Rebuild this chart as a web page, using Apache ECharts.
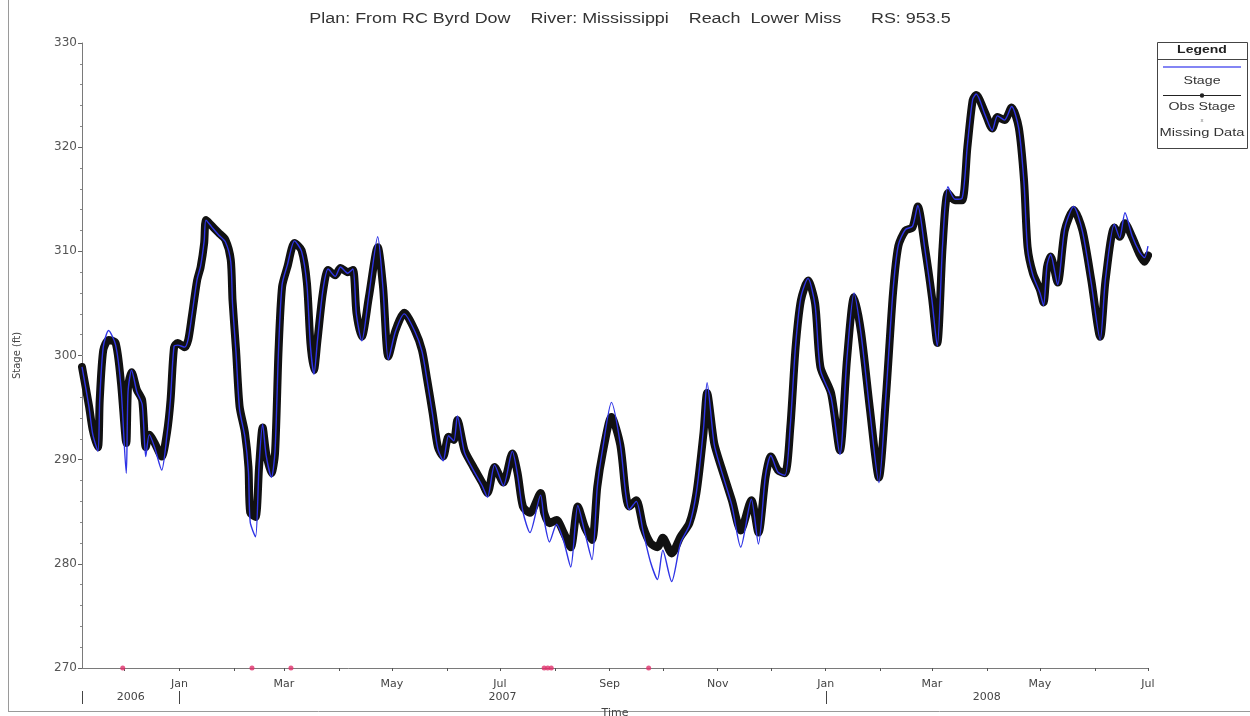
<!DOCTYPE html>
<html>
<head>
<meta charset="utf-8">
<script src="https://cdn.jsdelivr.net/npm/echarts@6/dist/echarts.min.js"></script>
<style>
  html, body { margin: 0; padding: 0; background: #fff; }
  #chart { width: 1250px; height: 716px; }
</style>
</head>
<body>
<div id="chart"></div>
<script>
// Stage hydrograph, Mississippi River (Lower Miss reach), RS 953.5
const titleText = 'Plan: From RC Byrd Dow    River: Mississippi    Reach  Lower Miss      RS: 953.5';

const obsDates = [
  '2006-11-07','2006-11-11','2006-11-13','2006-11-16','2006-11-17','2006-11-19','2006-11-22','2006-11-26','2006-11-29',
  '2006-12-02','2006-12-03','2006-12-05','2006-12-08','2006-12-11','2006-12-13','2006-12-15','2006-12-18','2006-12-22',
  '2006-12-25','2006-12-27','2006-12-29','2006-12-31',
  '2007-01-04','2007-01-06','2007-01-08','2007-01-11','2007-01-13','2007-01-15','2007-01-16','2007-01-19','2007-01-23',
  '2007-01-27','2007-01-30','2007-01-31','2007-02-02','2007-02-04','2007-02-07','2007-02-09','2007-02-10','2007-02-13',
  '2007-02-15','2007-02-17','2007-02-19','2007-02-22','2007-02-24','2007-02-26','2007-02-28','2007-03-03','2007-03-07',
  '2007-03-11','2007-03-14','2007-03-16','2007-03-18','2007-03-20','2007-03-23','2007-03-26','2007-03-30','2007-04-02',
  '2007-04-06','2007-04-09','2007-04-11','2007-04-14','2007-04-18','2007-04-23','2007-04-26','2007-04-29','2007-05-03',
  '2007-05-08','2007-05-14','2007-05-18','2007-05-21','2007-05-24','2007-05-27','2007-05-30','2007-06-02','2007-06-05',
  '2007-06-07','2007-06-11','2007-06-16','2007-06-21','2007-06-24','2007-06-28','2007-07-03','2007-07-08','2007-07-11',
  '2007-07-14','2007-07-18','2007-07-24','2007-07-26','2007-07-29','2007-08-02','2007-08-06','2007-08-10','2007-08-14',
  '2007-08-18','2007-08-22','2007-08-25','2007-08-28','2007-09-02','2007-09-07','2007-09-10','2007-09-12','2007-09-16',
  '2007-09-20','2007-09-24','2007-09-28','2007-10-01','2007-10-06','2007-10-11','2007-10-16','2007-10-20','2007-10-24',
  '2007-10-26','2007-10-30','2007-11-03','2007-11-09','2007-11-14','2007-11-20','2007-11-24','2007-11-28','2007-12-01',
  '2007-12-05','2007-12-09','2007-12-12','2007-12-15','2007-12-18','2007-12-22','2007-12-26','2007-12-29',
  '2008-01-04','2008-01-09','2008-01-13','2008-01-17','2008-01-21','2008-01-26','2008-01-31','2008-02-04','2008-02-08',
  '2008-02-11','2008-02-15','2008-02-19','2008-02-22','2008-02-26','2008-03-01','2008-03-04','2008-03-07','2008-03-10',
  '2008-03-14','2008-03-18','2008-03-21','2008-03-24','2008-03-26','2008-03-31','2008-04-04','2008-04-07','2008-04-11',
  '2008-04-15','2008-04-19','2008-04-22','2008-04-24','2008-04-27','2008-05-01','2008-05-03','2008-05-05','2008-05-07',
  '2008-05-11','2008-05-15','2008-05-20','2008-05-25','2008-05-30','2008-06-04','2008-06-07','2008-06-12','2008-06-15',
  '2008-06-18','2008-06-22','2008-06-26','2008-06-29','2008-07-01'
];

// Observed stage (ft)
const obsStage = [
  298.9,295.1,292.9,291.2,295.7,300.5,301.5,301.2,297.4,
  291.6,297.0,298.4,296.7,295.7,291.2,292.4,291.6,290.3,
  292.6,295.7,300.8,301.2,
  300.8,301.5,303.7,307.2,308.5,310.8,313.0,312.5,311.8,
  311.1,309.2,305.3,300.5,295.1,292.6,289.3,284.9,284.5,
  289.3,293.1,290.6,288.7,290.6,300.5,306.6,308.5,310.8,
  310.1,307.0,301.2,298.6,301.5,306.0,308.2,307.7,308.4,
  308.0,308.2,304.1,301.8,305.6,310.4,306.6,299.9,302.4,
  304.1,302.4,300.5,297.6,294.5,291.2,290.3,292.2,291.9,
  293.8,290.9,289.3,287.8,286.8,289.3,287.8,290.6,288.7,
  285.5,284.9,286.8,284.9,283.9,284.2,283.0,281.6,285.5,
  283.5,282.3,287.4,290.6,294.1,291.4,286.8,285.5,286.1,
  283.5,282.0,281.6,282.5,281.0,282.6,283.9,286.8,292.6,
  296.4,291.6,289.3,286.1,283.2,286.1,283.0,288.3,290.3,
  289.0,288.7,293.1,300.8,305.3,307.2,305.0,298.9,
  296.4,290.9,299.6,305.6,302.2,294.8,288.3,296.0,306.0,
  310.5,312.0,312.3,314.3,310.4,305.6,301.2,310.4,315.6,
  314.9,314.9,320.0,324.5,325.0,323.3,321.8,322.9,322.6,
  323.8,321.9,316.8,310.4,307.9,306.3,305.1,308.5,309.5,
  307.0,312.0,314.0,312.0,307.2,301.8,307.2,312.3,311.4,
  312.7,311.4,309.8,309.0,309.6
];

// Computed stage (ft)
const simStage = [
  298.9,295.0,292.5,290.8,295.7,300.8,302.4,301.0,297.0,
  288.7,296.5,298.6,296.5,295.3,290.3,292.4,291.2,289.0,
  292.4,295.9,300.9,301.0,
  300.8,301.6,303.8,307.3,308.6,311.0,313.0,312.4,311.6,
  310.9,309.0,305.0,300.2,294.8,292.2,288.8,284.0,282.6,
  289.5,293.4,290.4,288.3,290.8,300.6,306.8,308.7,311.0,
  310.0,306.8,300.9,298.2,301.5,306.2,308.3,307.6,308.5,
  307.9,308.3,303.9,301.4,305.8,311.4,306.4,299.6,302.3,
  304.0,302.3,300.4,297.5,294.3,291.0,289.9,292.3,291.8,
  294.2,290.7,289.0,287.5,286.4,289.5,287.5,290.8,288.5,
  285.0,283.0,286.6,284.2,282.1,283.8,282.2,279.7,285.6,
  283.0,280.4,287.4,291.0,295.5,291.5,286.8,285.2,286.0,
  283.0,280.2,278.5,281.3,278.3,282.0,283.7,286.9,293.0,
  297.4,291.5,289.0,285.6,281.6,286.2,281.9,288.5,290.4,
  288.8,288.5,293.3,301.0,305.6,307.4,304.8,298.6,
  296.0,290.5,299.8,306.0,302.0,294.5,287.8,296.2,306.2,
  310.6,312.1,312.4,314.4,310.2,305.3,300.9,310.6,316.2,
  315.0,315.1,320.2,324.6,325.1,323.1,321.6,323.0,322.6,
  323.9,321.8,316.5,310.2,307.7,306.0,304.8,308.7,309.7,
  306.8,312.2,314.3,311.9,306.9,301.5,307.4,312.6,311.3,
  313.7,311.5,310.0,309.4,310.5
];

// Days with gaps in the gauge record
const missingDates = ['2006-11-30','2007-02-11','2007-03-05','2007-07-26','2007-07-28','2007-07-30','2007-09-23'];

const timeStart = '2006-11-07';
const timeEnd = '2008-07-01';
const monthNames = ['Jan','Feb','Mar','Apr','May','Jun','Jul','Aug','Sep','Oct','Nov','Dec'];
const yearLabels = ['2006','2007','2008'];
const yearStarts = ['2006-11-07','2007-01-01','2008-01-01'];
const yMin = 270, yMax = 330, yStep = 10;

const FONT = '"Liberation Sans", Arial, sans-serif';
const LABEL_FONT = '"DejaVu Sans", sans-serif';
const ts = d => new Date(d + 'T00:00:00').getTime();

// month boundaries for axis ticks; odd months carry labels
const monthTicks = [];
const monthLabelTicks = [];
{
  let y = 2006, m = 11;
  while (y < 2008 || (y === 2008 && m <= 6)) {
    const t = new Date(y, m, 1).getTime();
    monthTicks.push(t);
    if (m % 2 === 0) monthLabelTicks.push(t);
    m++; if (m > 11) { m = 0; y++; }
  }
}

const chart = echarts.init(document.getElementById('chart'), null, { renderer: 'canvas' });

const option = {
  animation: false,
  backgroundColor: '#ffffff',
  textStyle: { fontFamily: FONT },
  grid: { left: 82, right: 102, top: 43, bottom: 48, containLabel: false, outerBoundsMode: 'none' },
  xAxis: {
    type: 'value',
    min: ts(timeStart),
    max: ts(timeEnd),
    name: 'Time',
    nameLocation: 'middle',
    nameGap: 40,
    nameTextStyle: { fontSize: 11, color: '#444', fontFamily: LABEL_FONT },
    axisLine: { lineStyle: { color: '#7a7a7a', width: 1 } },
    axisTick: { show: true, length: 3, customValues: monthTicks, lineStyle: { color: '#555' } },
    axisLabel: {
      customValues: monthLabelTicks,
      fontSize: 11, color: '#444', margin: 11, fontFamily: LABEL_FONT,
      formatter: v => monthNames[new Date(v).getMonth()]
    },
    splitLine: { show: false }
  },
  yAxis: {
    type: 'value',
    min: yMin, max: yMax, interval: yStep,
    name: 'Stage (ft)',
    nameLocation: 'middle',
    nameGap: 60,
    nameRotate: 90,
    nameTextStyle: { fontSize: 10, color: '#444', fontFamily: LABEL_FONT },
    axisLine: { show: true, lineStyle: { color: '#7a7a7a', width: 1 } },
    axisTick: { show: true, length: 4, lineStyle: { color: '#666' } },
    minorTick: { show: true, splitNumber: 5, length: 2, lineStyle: { color: '#888' } },
    axisLabel: { fontSize: 12, color: '#555', margin: 5, fontFamily: LABEL_FONT },
    splitLine: { show: false }
  },
  series: [
    {
      name: 'Obs Stage',
      type: 'line',
      data: obsDates.map((d, i) => [ts(d), obsStage[i]]),
      symbol: 'none',
      smooth: 0.25,
      lineStyle: { color: '#111111', width: 8, cap: 'round', join: 'round' },
      z: 2
    },
    {
      name: 'Stage',
      type: 'line',
      data: obsDates.map((d, i) => [ts(d), simStage[i]]),
      symbol: 'none',
      smooth: 0.25,
      lineStyle: { color: '#2f34e6', width: 1.4 },
      z: 3
    },
    {
      name: 'Missing Data',
      type: 'scatter',
      data: missingDates.map(d => [ts(d), yMin]),
      symbol: 'circle',
      symbolSize: 5,
      itemStyle: { color: '#e0306a' },
      clip: false,
      z: 4
    }
  ]
};

chart.setOption(option);

// Year row under the month labels, plus the legend box
const px = d => chart.convertToPixel({ xAxisIndex: 0 }, ts(d));
const xEndPx = px(timeEnd);
const graphics = [];

const stretchedText = (x, y, text, font, fill, sx) => ({
  type: 'text', x, y, scaleX: sx,
  style: { x: 0, y: 0, text, font, fill, textAlign: 'center', textVerticalAlign: 'middle' }
});

graphics.push(stretchedText(630, 19, titleText, '14px ' + FONT, '#333', 1.28));

yearStarts.forEach((d, i) => {
  const x0 = Math.round(px(d)) + 0.5;
  graphics.push({ type: 'line', shape: { x1: x0, y1: 691, x2: x0, y2: 704 }, style: { stroke: '#444', lineWidth: 1 } });
  const next = i + 1 < yearStarts.length ? px(yearStarts[i + 1]) : xEndPx;
  const cx = (px(d) + next) / 2;
  graphics.push({ type: 'text', style: { x: cx, y: 697, text: yearLabels[i], font: '11px ' + LABEL_FONT, fill: '#444', textAlign: 'center', textVerticalAlign: 'middle' } });
});

// legend
const L = { x: 1157, y: 42, w: 90, h: 106 };
const cxL = L.x + L.w / 2;
graphics.push({ type: 'rect', shape: { x: L.x + 0.5, y: L.y + 0.5, width: L.w, height: L.h }, style: { fill: '#fff', stroke: '#444', lineWidth: 1 } });
graphics.push(stretchedText(cxL, 50, 'Legend', 'bold 10px ' + FONT, '#222', 1.4));
graphics.push({ type: 'line', shape: { x1: L.x, y1: 59.5, x2: L.x + L.w, y2: 59.5 }, style: { stroke: '#444', lineWidth: 1 } });
graphics.push({ type: 'line', shape: { x1: L.x + 6, y1: 67, x2: L.x + L.w - 6, y2: 67 }, style: { stroke: '#5a5cf0', lineWidth: 1.5 } });
graphics.push(stretchedText(cxL, 81, 'Stage', '10.5px ' + FONT, '#333', 1.35));
graphics.push({ type: 'line', shape: { x1: L.x + 6, y1: 95.5, x2: L.x + L.w - 6, y2: 95.5 }, style: { stroke: '#222', lineWidth: 1 } });
graphics.push({ type: 'circle', shape: { cx: cxL, cy: 95.5, r: 2.2 }, style: { fill: '#222' } });
graphics.push(stretchedText(cxL, 107, 'Obs Stage', '10.5px ' + FONT, '#333', 1.35));
graphics.push({ type: 'text', style: { x: cxL, y: 120, text: 'x', font: '6px ' + FONT, fill: '#777', textAlign: 'center', textVerticalAlign: 'middle' } });
graphics.push(stretchedText(cxL, 133, 'Missing Data', '10.5px ' + FONT, '#333', 1.4));

// outer frame
graphics.push({ type: 'line', shape: { x1: 8.5, y1: 0, x2: 8.5, y2: 712 }, style: { stroke: '#9a9a9a', lineWidth: 1 } });
graphics.push({ type: 'line', shape: { x1: 8, y1: 711.5, x2: 1250, y2: 711.5 }, style: { stroke: '#9a9a9a', lineWidth: 1 } });

chart.setOption({ graphic: graphics });
</script>
</body>
</html>
